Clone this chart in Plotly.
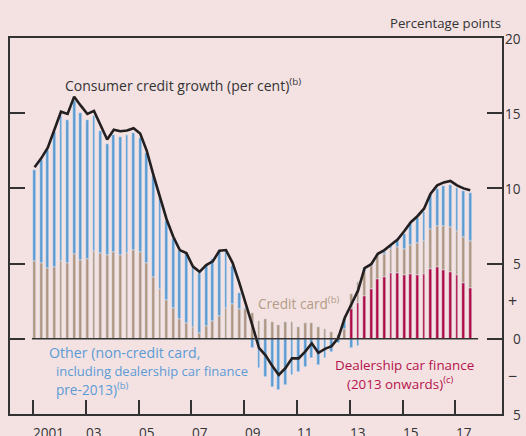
import plotly.graph_objects as go

# ---- data (quarterly, 2001 Q1 - 2017 Q3) ----
quarters = [f"{y} Q{q}" for y in range(2001, 2018) for q in range(1, 5)][:67]

credit_card = [5.18, 5.04, 4.69, 4.76, 5.20, 5.04, 5.62, 5.22, 5.33, 5.84,
               5.73, 5.58, 5.76, 5.58, 5.73, 5.89, 5.76, 5.02, 4.09, 3.29,
               2.56, 2.02, 1.29, 1.02, 0.78, 0.40, 0.82, 1.18, 1.49, 2.02,
               2.29, 1.96, 1.96, 1.69, 1.20, 1.33, 1.13, 0.93, 1.11, 1.13,
               0.80, 1.07, 1.04, 0.76, 0.62, 0.47, 0.25, 0.64, 1.00, 1.43,
               1.60, 1.55, 1.54, 1.51, 1.60, 1.77, 1.78, 1.93, 2.14, 2.20,
               2.67, 2.71, 2.91, 3.00, 2.98, 3.11, 3.13]

other = [6.04, 6.85, 7.87, 8.97, 9.60, 9.52, 10.16, 9.80, 9.23, 9.00,
         8.07, 7.38, 7.80, 7.84, 7.83, 7.80, 7.60, 7.33, 6.75, 6.01,
         5.24, 4.63, 4.55, 4.67, 3.95, 3.95, 4.07, 4.11, 4.35, 3.76,
         2.55, 1.11, 0.11, -0.60, -1.96, -2.51, -3.18, -3.40, -3.07, -2.40,
         -2.18, -1.89, -1.29, -1.73, -1.29, -0.90, -0.29, 0.67, -0.60, -0.50,
         0.29, 0.10, 0.12, 0.16, 0.22, 0.43, 0.96, 1.40, 1.64, 1.95,
         2.27, 2.49, 2.66, 2.80, 2.80, 3.02, 3.20]

dealership = [None] * 48 + [1.95, 2.35, 2.84, 3.29, 3.96, 4.11, 4.36, 4.36,
                            4.22, 4.29, 4.22, 4.29, 4.62, 4.76, 4.56, 4.42,
                            4.22, 3.69, 3.36]

consumer_growth = [11.4, 12.0, 12.7, 13.9, 15.1, 14.95, 16.1, 15.5, 14.95, 15.15,
                   14.15, 13.25, 13.9, 13.8, 13.85, 14.0, 13.65, 12.5, 10.9, 9.5,
                   7.95, 6.8, 5.9, 5.7, 4.8, 4.45, 4.9, 5.15, 5.85, 5.9,
                   5.05, 3.75, 2.4, 0.9, -0.6, -1.1, -1.8, -2.4, -1.95, -1.3,
                   -1.3, -0.85, -0.3, -0.93, -0.67, -0.49, 0.05, 1.4, 2.3, 3.2,
                   4.7, 4.96, 5.65, 5.9, 6.25, 6.6, 7.15, 7.75, 8.15, 8.65,
                   9.65, 10.2, 10.4, 10.5, 10.2, 10.0, 9.87]

year_ticks = [2001, 2003, 2005, 2007, 2009, 2011, 2013, 2015, 2017]
year_labels = ["2001", "03", "05", "07", "09", "11", "13", "15", "17"]
right_ticks = [20, 15, 10, 5, 0, -5]
right_labels = ["20", "15", "10", "5", "0", "5"]

# x position (decimal years) from quarter labels
def qpos(lbl):
    y, q = lbl.split(" Q")
    return int(y) + (int(q) - 1) / 4 + 0.06

x = [qpos(q) for q in quarters]

BG = "#F4E2E3"
BLUE = "#5B9BD0"
BROWN = "#B09680"
RED = "#AE0A43"
DARK = "#231F20"
FONT = "Open Sans"
FS = 13.6

fig = go.Figure()
fig.add_bar(x=x, y=dealership, marker_color=RED, width=0.1, name="Dealership")
fig.add_bar(x=x, y=credit_card, marker_color=BROWN, width=0.1, name="Credit card")
fig.add_bar(x=x, y=other, marker_color=BLUE, width=0.1, name="Other")
fig.add_scatter(x=x, y=consumer_growth, mode="lines",
                line=dict(color=DARK, width=2.6), name="Consumer credit growth")

fig.add_shape(type="line", x0=x[0] - 0.1, x1=x[-1] + 0.3, y0=0, y1=0,
              line=dict(color="#333333", width=1.5), layer="above")

ann = []
tf = dict(family=FONT, size=FS, color="#333333")
for yv, t in zip(year_ticks, year_labels):
    ann.append(dict(x=yv - 0.06, y=-0.048, xref="x", yref="paper", text=t,
                    showarrow=False, xanchor="left", yanchor="middle", font=tf))
for yv, t in zip(right_ticks, right_labels):
    ann.append(dict(x=1.0427, y=yv, xref="paper", yref="y", text=t,
                    showarrow=False, xanchor="right", yanchor="middle", font=tf))
for yv, t in [(2.5, "+"), (-2.5, "−")]:
    ann.append(dict(x=1.0213, y=yv, xref="paper", yref="y", text=t,
                    showarrow=False, xanchor="center", yanchor="middle",
                    font=dict(family=FONT, size=16, color="#333333")))
ann.append(dict(x=1.003, y=1.04, xref="paper", yref="paper", text="Percentage points",
                showarrow=False, xanchor="right", yanchor="middle",
                font=dict(family=FONT, size=13.2, color="#333333")))
ann.append(dict(x=2002.12, y=16.85, text="Consumer credit growth (per cent)<sup>(b)</sup>",
                showarrow=False, xanchor="left", yanchor="middle",
                font=dict(family=FONT, size=14, color="#333333")))
ann.append(dict(x=2009.46, y=2.35, text="Credit card<sup>(b)</sup>",
                showarrow=False, xanchor="left", yanchor="middle",
                font=dict(family=FONT, size=FS, color="#B39C86")))
bf = dict(family=FONT, size=FS, color="#5B9BD5")
ann.append(dict(x=2001.52, y=-0.91, text="Other (non-credit card,",
                showarrow=False, xanchor="left", yanchor="middle",
                font=dict(family=FONT, size=14.2, color="#5B9BD5")))
ann.append(dict(x=2001.79, y=-2.17, text="including dealership car finance",
                showarrow=False, xanchor="left", yanchor="middle",
                font=dict(family=FONT, size=13, color="#5B9BD5")))
ann.append(dict(x=2001.79, y=-3.37, text="pre-2013)<sup>(b)</sup>",
                showarrow=False, xanchor="left", yanchor="middle", font=bf))
rf = dict(family=FONT, size=13.4, color="#B5124B")
ann.append(dict(x=2015.07, y=-1.71, text="Dealership car finance",
                showarrow=False, xanchor="center", yanchor="middle", font=rf))
ann.append(dict(x=2014.9, y=-2.95, text="(2013 onwards)<sup>(c)</sup>",
                showarrow=False, xanchor="center", yanchor="middle", font=rf))

fig.update_layout(
    width=526, height=436,
    margin=dict(l=10, r=24, t=38, b=22, autoexpand=False),
    paper_bgcolor=BG, plot_bgcolor=BG,
    barmode="relative", bargap=0,
    showlegend=False,
    annotations=ann,
    xaxis=dict(range=[2000.129, 2018.765], showgrid=False, zeroline=False,
               showline=True, mirror=True, linecolor="#333333", linewidth=1.5,
               ticks="inside", tickmode="array", tickvals=year_ticks,
               ticklen=14, tickwidth=1.5, tickcolor="#333333",
               showticklabels=False),
    yaxis=dict(range=[-5, 20], showgrid=False, zeroline=False,
               showline=True, mirror="ticks", linecolor="#333333", linewidth=1.5,
               ticks="inside", tickmode="array", tickvals=[0, 5, 10, 15],
               ticklen=15, tickwidth=1.5, tickcolor="#333333",
               showticklabels=False),
)

fig.write_html("out.html", config={"displayModeBar": False},
               post_script="document.body.style.margin='0';document.body.style.padding='0';")
